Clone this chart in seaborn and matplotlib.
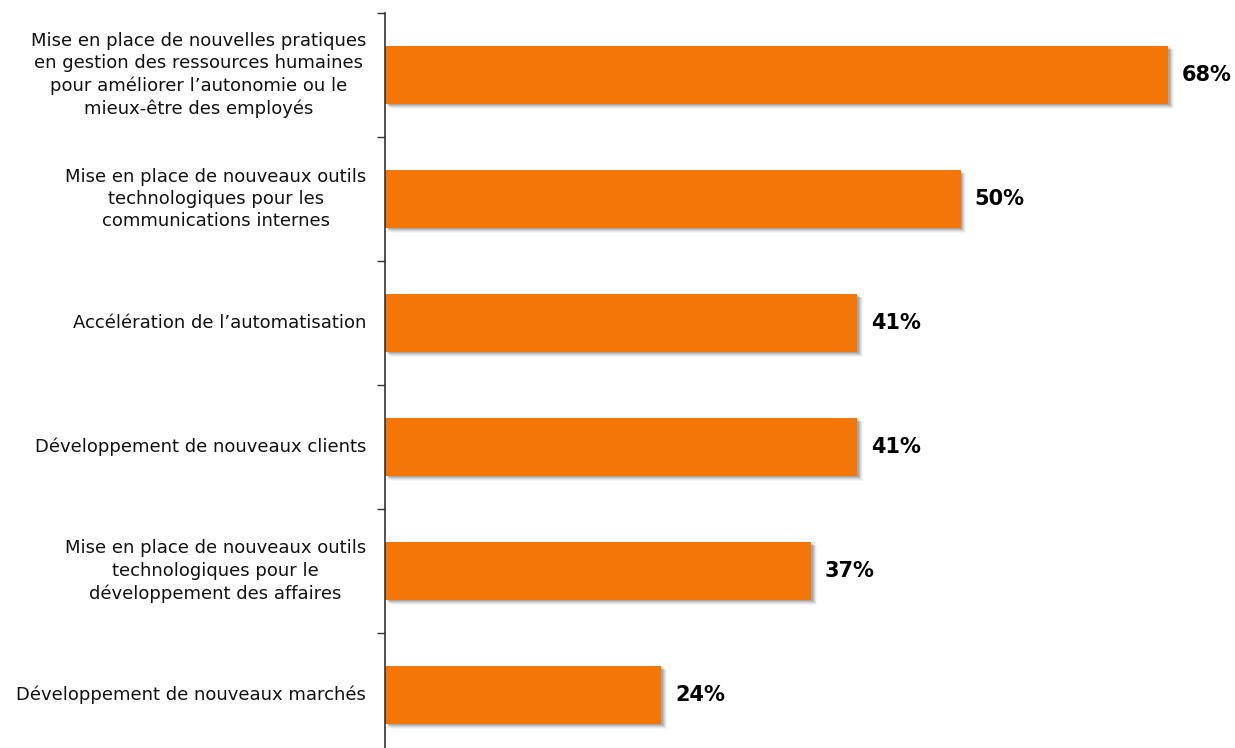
import matplotlib
matplotlib.use("Agg")
import matplotlib.pyplot as plt
import matplotlib.patheffects as pe
import seaborn as sns
import pandas as pd
import numpy as np

categories = [
    "Mise en place de nouvelles pratiques\nen gestion des ressources humaines\npour améliorer l’autonomie ou le\nmieux-être des employés",
    "Mise en place de nouveaux outils\ntechnologiques pour les\ncommunications internes",
    "Accélération de l’automatisation",
    "Développement de nouveaux clients",
    "Mise en place de nouveaux outils\ntechnologiques pour le\ndéveloppement des affaires",
    "Développement de nouveaux marchés",
]
values = [68, 50, 41, 41, 37, 24]
value_labels = ["68%", "50%", "41%", "41%", "37%", "24%"]

BAR_COLOR = "#F47508"
TEXT_COLOR = "#111111"

sns.set_style("white")
plt.rcParams["font.family"] = ["DejaVu Sans"]

df = pd.DataFrame({"categorie": categories, "valeur": values})

W, H = 1235, 748
fig = plt.figure(figsize=(W / 100, H / 100), dpi=100)
left_px, top_px, bottom_px = 385, 13, 757
ax = fig.add_axes([left_px / W, 1 - bottom_px / H, 1 - left_px / W, (bottom_px - top_px) / H])

sns.barplot(data=df, y="categorie", x="valeur", orient="h", color=BAR_COLOR,
            width=0.47, saturation=1, ax=ax, linewidth=0)

# soft drop shadow under each bar
shadow = [
    pe.SimplePatchShadow(offset=(4.0, -3.2), shadow_rgbFace="#000000", alpha=0.04),
    pe.SimplePatchShadow(offset=(3.2, -2.6), shadow_rgbFace="#000000", alpha=0.06),
    pe.SimplePatchShadow(offset=(2.5, -2.0), shadow_rgbFace="#000000", alpha=0.08),
    pe.SimplePatchShadow(offset=(1.8, -1.4), shadow_rgbFace="#000000", alpha=0.10),
    pe.SimplePatchShadow(offset=(1.1, -0.8), shadow_rgbFace="#000000", alpha=0.12),
    pe.Normal(),
]
for patch in ax.patches:
    patch.set_path_effects(shadow)

ax.set_xlim(0, 73.8)
ax.set_ylim(len(categories) - 0.5, -0.5)

for i, (v, lab) in enumerate(zip(values, value_labels)):
    ax.annotate(lab, xy=(v, i), xytext=(10, 0), textcoords="offset points",
                ha="left", va="center", fontsize=15, fontweight="bold", color="black")

ax.set_xlabel("")
ax.set_ylabel("")
ax.set_xticks([])
for s in ["top", "right", "bottom"]:
    ax.spines[s].set_visible(False)
ax.spines["left"].set_color("#333333")
ax.spines["left"].set_linewidth(1.2)

ax.set_yticks(np.arange(len(categories)))
ax.set_yticks(np.arange(len(categories) + 1) - 0.5, minor=True)
ax.tick_params(axis="y", which="major", length=0, pad=13.5, labelsize=13, labelcolor=TEXT_COLOR)
ax.tick_params(axis="y", which="minor", length=5.5, width=1.0, color="#333333", direction="out", left=True)
for t in ax.get_yticklabels():
    t.set_multialignment("center")
    t.set_linespacing(1.3)
    t.set_verticalalignment("center")

fig.savefig("out.png", dpi=100)
